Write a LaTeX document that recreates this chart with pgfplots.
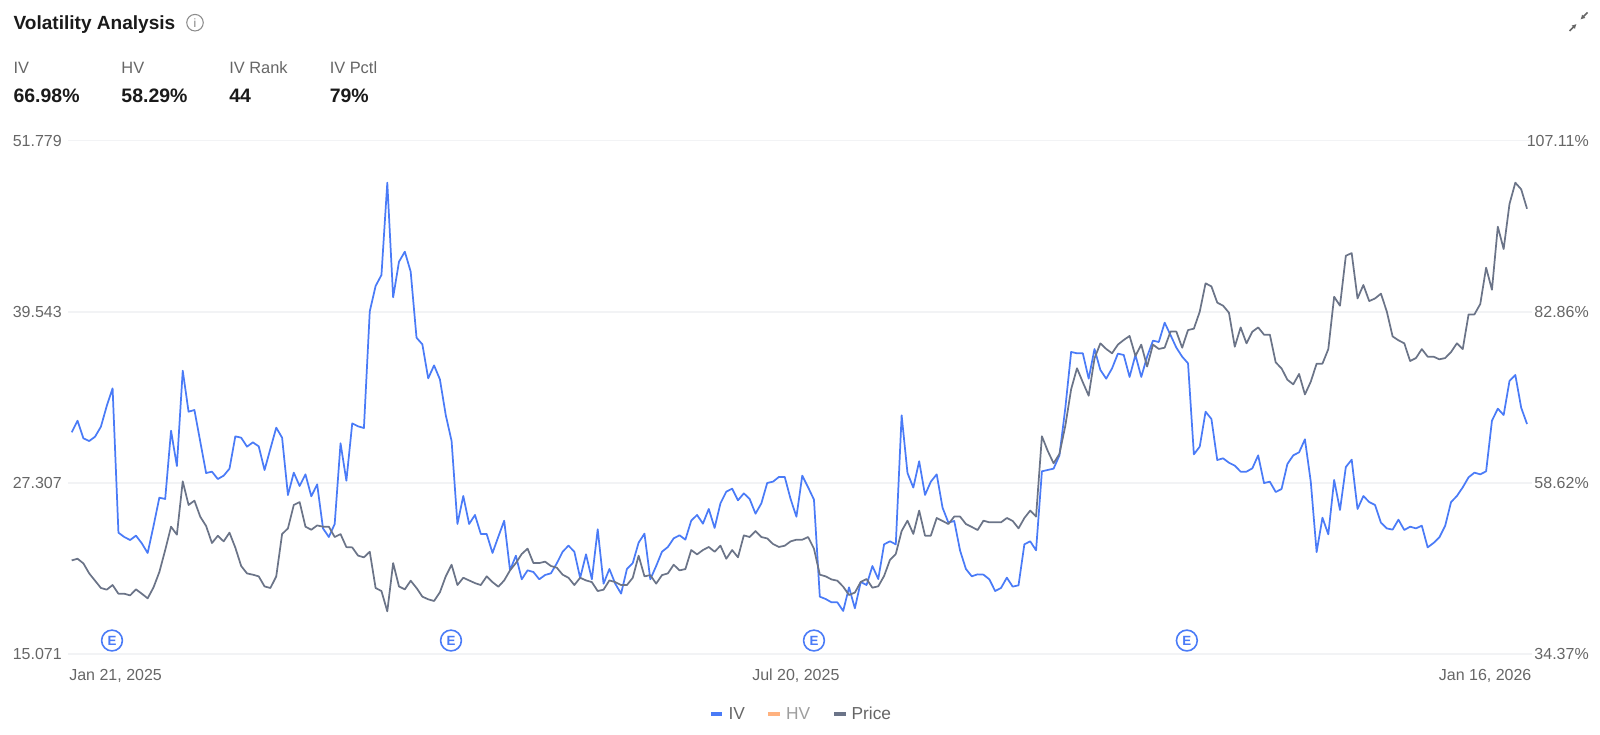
\documentclass[border=0pt]{standalone}
\usepackage{fontspec}
\setmainfont{Liberation Sans}
\usepackage{pgfplots}
\usepackage{pgfplotstable}
\usetikzlibrary{arrows.meta}
\pgfplotsset{compat=1.18}
\definecolor{ivblue}{HTML}{4A7BF7}
\definecolor{hvorange}{HTML}{FFB27F}
\definecolor{pricegray}{HTML}{6B7488}
\definecolor{ticktxt}{HTML}{666666}
\definecolor{gridc}{HTML}{F2F3F5}
\definecolor{headtxt}{HTML}{1A1A1A}
\pgfplotstableread{
i iv price
0 65.80 21.78
1 67.45 21.90
2 64.95 21.57
3 64.57 20.85
4 65.18 20.33
5 66.60 19.81
6 69.53 19.69
7 72.03 20.02
8 51.59 19.40
9 50.98 19.40
10 50.55 19.28
11 51.17 19.71
12 50.08 19.40
13 48.71 19.07
14 52.53 19.85
15 56.55 20.95
16 56.36 22.52
17 66.03 24.19
18 61.03 23.62
19 74.53 27.43
20 68.72 25.74
21 68.96 26.05
22 64.48 24.90
23 60.04 24.24
24 60.23 23.02
25 59.19 23.54
26 59.66 23.14
27 60.65 23.76
28 65.23 22.69
29 65.04 21.38
30 63.77 20.85
31 64.38 20.76
32 63.82 20.64
33 60.46 19.92
34 63.48 19.81
35 66.46 20.64
36 65.04 23.66
37 56.92 24.07
38 60.09 25.74
39 58.20 25.95
40 59.85 24.19
41 56.74 23.97
42 58.43 24.28
43 52.20 24.19
44 50.98 24.19
45 52.82 23.45
46 64.24 23.66
47 58.95 22.73
48 67.07 22.71
49 66.65 22.12
50 66.41 22.00
51 82.93 22.40
52 86.52 19.81
53 88.08 19.59
54 101.15 18.14
55 84.91 21.59
56 89.96 19.92
57 91.38 19.71
58 88.55 20.33
59 79.20 19.81
60 78.26 19.19
61 73.44 19.00
62 75.28 18.88
63 73.30 19.50
64 68.25 20.64
65 64.57 21.47
66 52.82 20.02
67 56.79 20.54
68 52.82 20.35
69 54.10 20.16
70 51.41 20.02
71 51.41 20.64
72 48.72 20.23
73 51.03 19.90
74 53.29 20.35
75 46.26 21.07
76 48.34 21.59
77 44.99 22.24
78 46.26 22.62
79 46.02 21.59
80 44.99 21.59
81 45.60 21.69
82 45.84 21.38
83 47.25 21.26
84 48.90 20.76
85 49.75 20.54
86 48.90 20.02
87 45.18 20.54
88 48.53 20.35
89 44.99 20.23
90 52.07 19.59
91 44.37 19.69
92 46.45 20.35
93 44.37 20.23
94 42.96 20.02
95 46.45 20.02
96 47.30 20.54
97 50.18 22.12
98 51.45 20.64
99 44.99 20.73
100 46.87 20.12
101 48.90 20.73
102 49.56 20.85
103 50.79 21.47
104 51.22 21.07
105 50.60 21.16
106 53.29 22.52
107 54.10 22.21
108 52.87 22.52
109 54.95 22.74
110 52.26 22.40
111 55.75 22.83
112 57.40 21.90
113 57.82 22.52
114 56.17 22.00
115 57.16 23.57
116 56.36 23.45
117 54.28 23.88
118 55.75 23.45
119 58.63 23.35
120 58.82 22.95
121 59.48 22.74
122 59.48 22.83
123 56.36 23.14
124 53.86 23.26
125 59.67 23.26
126 58.01 23.45
127 56.27 22.62
128 42.53 20.76
129 42.20 20.64
130 41.73 20.42
131 41.73 20.33
132 40.50 19.90
133 43.85 19.31
134 40.88 19.48
135 44.61 20.24
136 44.18 20.45
137 46.87 19.83
138 45.03 19.93
139 49.94 20.67
140 50.37 21.81
141 49.94 22.24
142 68.21 23.88
143 60.04 24.62
144 57.97 23.67
145 61.70 25.34
146 56.93 23.55
147 58.82 23.55
148 59.85 24.81
149 55.13 24.60
150 53.01 24.38
151 53.25 24.91
152 49.05 24.91
153 46.45 24.38
154 45.41 24.17
155 45.69 23.95
156 45.65 24.62
157 44.99 24.50
158 43.33 24.50
159 43.76 24.50
160 45.22 24.81
161 43.95 24.60
162 44.14 24.07
163 49.94 24.81
164 50.37 25.34
165 49.09 24.91
166 60.28 30.65
167 60.47 29.60
168 60.66 28.72
169 62.54 29.39
170 69.20 31.39
171 77.18 34.01
172 76.99 35.51
173 76.99 34.51
174 73.40 33.55
175 77.60 36.22
176 74.63 37.29
177 73.40 36.89
178 74.86 36.58
179 76.94 37.20
180 76.75 37.53
181 73.64 37.82
182 76.75 36.39
183 73.64 37.20
184 76.52 35.63
185 78.78 37.20
186 78.59 36.89
187 81.33 36.98
188 79.58 38.13
189 77.79 38.13
190 76.51 36.98
191 75.57 38.24
192 62.68 38.34
193 63.77 39.55
194 68.72 41.58
195 67.69 41.36
196 61.88 40.20
197 62.12 39.98
198 61.50 39.48
199 61.08 37.05
200 60.23 38.43
201 60.23 37.29
202 60.70 38.12
203 62.54 38.43
204 58.62 37.91
205 58.81 37.91
206 57.35 35.93
207 57.77 35.50
208 61.31 34.69
209 62.54 34.36
210 62.97 35.10
211 64.81 33.64
212 58.81 34.55
213 48.85 35.84
214 53.71 35.84
215 51.35 36.88
216 59.05 40.62
217 54.80 39.98
218 60.89 43.55
219 61.93 43.74
220 54.94 40.50
221 56.78 41.46
222 55.93 40.31
223 55.51 40.50
224 53.01 40.84
225 52.20 39.58
226 52.02 37.79
227 53.43 37.51
228 51.97 37.29
229 52.44 36.03
230 52.20 36.24
231 52.58 36.88
232 49.51 36.34
233 50.13 36.34
234 50.93 36.15
235 52.58 36.24
236 55.93 36.67
237 56.78 37.29
238 58.01 36.88
239 59.43 39.36
240 60.09 39.36
241 59.85 40.10
242 60.28 42.70
243 67.45 41.12
244 69.15 45.63
245 68.25 44.03
246 73.07 47.25
247 73.92 48.77
248 69.29 48.30
249 66.98 46.91
}\voltable
\begin{document}
\begin{tikzpicture}[x=0.75pt,y=0.75pt]
\path[use as bounding box] (0,0) rectangle (1600,735);
% header
\node[anchor=west,inner sep=0pt,text=headtxt,font=\fontsize{14.3pt}{16pt}\selectfont\bfseries] at (13.3,710.5) {Volatility Analysis};
\node[circle,draw=black!45,line width=0.8pt,minimum size=12.4pt,inner sep=0pt,text=black!50,font=\fontsize{9pt}{10pt}\selectfont] at (195,712.3) {i};
\foreach \xx/\lab/\val in {13.3/IV/66.98\%,121.2/HV/58.29\%,229/IV Rank/44,329.5/IV Pctl/79\%}{
  \node[anchor=west,inner sep=0pt,text=ticktxt,font=\fontsize{12.3pt}{14pt}\selectfont] at (\xx,667) {\lab};
  \node[anchor=west,inner sep=0pt,text=headtxt,font=\fontsize{14.6pt}{16pt}\selectfont\bfseries] at (\xx,639) {\val};
}
% collapse icon
\draw[ticktxt,line width=1.1pt,-{Latex[length=3.4pt,width=3.8pt]}] (1569.5,704) -- (1576.5,711);
\draw[ticktxt,line width=1.1pt,-{Latex[length=3.4pt,width=3.8pt]}] (1587.5,722.5) -- (1580.5,715.5);
% IV axis (right)
\begin{axis}[
  at={(51pt,60.525pt)},anchor=south west,scale only axis,
  width=1098pt,height=385.275pt,
  xmin=-0.63,xmax=249.85,
  ymin=34.37,ymax=107.11,
  axis y line*=right,axis x line*=bottom,
  axis line style={draw=none},
  tick style={draw=none},
  clip=false,
  ytick={34.37,58.62,82.86,107.11},
  yticklabels={34.37\%,58.62\%,82.86\%,107.11\%},
  ymajorgrids,
  grid style={gridc,line width=1.2pt},
  xtick={-0.4,123.9,249.75},
  xticklabels={\makebox[0pt][l]{Jan 21, 2025},{Jul 20, 2025},\makebox[0pt][r]{Jan 16, 2026}},
  tick label style={font=\fontsize{12pt}{14pt}\selectfont,text=ticktxt,inner sep=0pt},
  yticklabel style={anchor=east,xshift=42.75pt},
  xticklabel style={yshift=-10.75pt},
  ]
  \addplot[ivblue,line width=1.3pt,line join=round,forget plot] table[x=i,y=iv] {\voltable};
  \addplot[only marks,mark=*,mark size=7.8pt,
    mark options={draw=ivblue,fill=white,line width=1.2pt},
    nodes near coords={\textbf{E}},
    every node near coord/.append style={anchor=center,inner sep=0pt,text=ivblue,font=\fontsize{10pt}{12pt}\selectfont},
    forget plot] coordinates {(6.9,36.32) (64.9,36.32) (127,36.32) (190.8,36.32)};
\end{axis}
% Price axis (left)
\begin{axis}[
  at={(51pt,60.525pt)},anchor=south west,scale only axis,
  width=1098pt,height=385.275pt,
  xmin=-0.63,xmax=249.85,
  ymin=15.071,ymax=51.779,
  axis y line*=left,axis x line*=bottom,
  axis line style={draw=none},
  tick style={draw=none},
  clip=false,
  xtick=\empty,
  ytick={15.071,27.307,39.543,51.779},
  yticklabels={15.071,27.307,39.543,51.779},
  tick label style={font=\fontsize{12pt}{14pt}\selectfont,text=ticktxt,inner sep=0pt},
  yticklabel style={anchor=east,xshift=-4.5pt},
  legend columns=3,
  legend image code/.code={\fill[#1,draw=none] (0pt,-1.5pt) rectangle (8.8pt,1.5pt);},
  legend style={at={(0.5027,-0.1165)},anchor=center,draw=none,fill=none,inner sep=0pt,
    font=\fontsize{13pt}{15pt}\selectfont,
    nodes={inner xsep=4.6pt,inner ysep=0pt},
    /tikz/every even column/.append style={column sep=13pt}},
  ]
  \addplot[pricegray,line width=1.3pt,line join=round,forget plot] table[x=i,y=price] {\voltable};
  \addlegendimage{fill=ivblue}
  \addlegendentry{\textcolor{ticktxt}{IV}}
  \addlegendimage{fill=hvorange}
  \addlegendentry{\textcolor{black!38}{HV}}
  \addlegendimage{fill=pricegray}
  \addlegendentry{\textcolor{ticktxt}{Price}}
\end{axis}
\end{tikzpicture}
\end{document}
